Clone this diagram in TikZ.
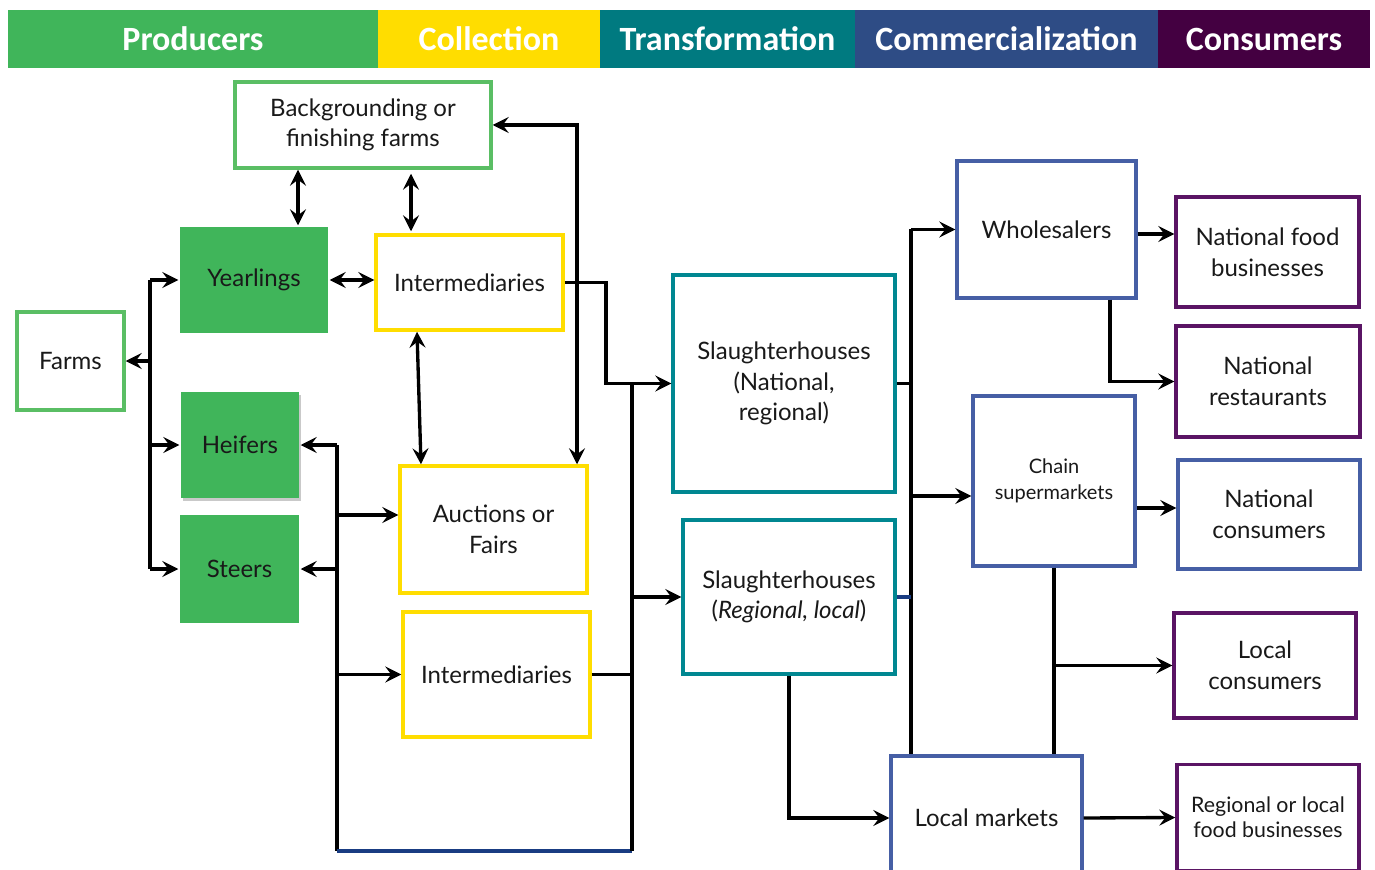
\documentclass[tikz,border=0pt]{standalone}
\usepackage{fontspec}
\setmainfont{Lato}
\newfontfamily\hdrfont{Carlito}
\usetikzlibrary{arrows.meta,shadows}
\definecolor{cgreen}{RGB}{64,181,90}
\definecolor{cgreenb}{RGB}{90,190,100}
\definecolor{cyellow}{RGB}{255,221,0}
\definecolor{cteal}{RGB}{0,122,128}
\definecolor{ctealb}{RGB}{0,135,145}
\definecolor{cblue}{RGB}{46,76,133}
\definecolor{cblueb}{RGB}{70,95,165}
\definecolor{cpurple}{RGB}{68,0,65}
\definecolor{cpurpleb}{RGB}{90,20,100}
\definecolor{cdark}{RGB}{25,60,130}
\begin{document}
\begin{tikzpicture}[x=0.75pt,y=-0.75pt,
  sz/.style 2 args={minimum width=#1*0.75pt, minimum height=#2*0.75pt},
  hdr/.style={inner sep=0pt, text=white, font=\hdrfont\bfseries\fontsize{25.5}{30}\selectfont},
  box/.style={draw, line width=2.6pt, align=center, inner sep=2pt, text=black!90,
    font=\fontsize{18}{23}\selectfont},
  gbox/.style={box, draw=cgreenb},
  fbox/.style={box, draw=none, fill=cgreen},
  ybox/.style={box, draw=cyellow},
  tbox/.style={box, draw=ctealb},
  bbox/.style={box, draw=cblueb},
  pbox/.style={box, draw=cpurpleb},
  ln/.style={line width=2.5pt},
  tip/.tip={Stealth[length=12pt,width=12pt,inset=4.5pt]},
  arr/.style={ln, -tip},
  darr/.style={ln, tip-tip}
]
\useasboundingbox (0,0) rectangle (1375,870);
\fill[white] (0,0) rectangle (1375,870);

% header
\node[hdr, fill=cgreen, sz={370}{58}] (hprod) at (193,39) {Producers};
\node[hdr, fill=cyellow, sz={222}{58}] (hcoll) at (489,39) {Collection};
\node[hdr, fill=cteal, sz={255}{58}] (htran) at (727.5,39) {Transformation};
\node[hdr, fill=cblue, sz={303}{58}] (hcomm) at (1006.5,39) {Commercialization};
\node[hdr, fill=cpurple, sz={212}{58}] (hcons) at (1264,39) {Consumers};

% nodes
\node[gbox, sz={256}{86}] (back) at (363,125) {Backgrounding or\\finishing farms};
\node[gbox, sz={107}{98}] (farms) at (70.5,361) {Farms};
\node[fbox, sz={148}{106}] (yearl) at (254,280) {Yearlings};
\node[fbox, sz={118}{106}, drop shadow={shadow xshift=1.5pt, shadow yshift=-2.5pt, opacity=0.35, fill=black!60}] (heif) at (240,445) {Heifers};
\node[fbox, sz={119}{108}] (steer) at (239.5,569) {Steers};
\node[ybox, sz={187}{95}] (int1) at (469.5,282.5) {Intermediaries};
\node[ybox, sz={187}{127}] (auct) at (493.5,529.5) {Auctions or\\Fairs};
\node[ybox, sz={187}{125}] (int2) at (496.5,674.5) {Intermediaries};
\node[tbox, sz={222}{217}] (sl1) at (784,383.5) {Slaughterhouses\\(National,\\regional)};
\node[tbox, sz={212}{154}] (sl2) at (789,597) {Slaughterhouses\\(\textit{Regional, local})};
\node[bbox, sz={179}{137}] (whol) at (1046.5,229.5) {Wholesalers};
\node[bbox, sz={162}{170}, font=\fontsize{15}{19}\selectfont] (chain) at (1054,481) {Chain\\supermarkets};
\node[bbox, sz={191}{124}] (lm) at (986.5,818) {Local markets};
\node[pbox, sz={183}{110}] (nfb) at (1267.5,252) {National food\\businesses};
\node[pbox, sz={184}{111}] (nr) at (1268,381.5) {National\\restaurants};
\node[bbox, sz={182}{109}] (nc) at (1269,514.5) {National\\consumers};
\node[pbox, sz={182}{105}] (lc) at (1265,665.5) {Local\\consumers};
\node[pbox, sz={182}{106}, font=\fontsize{16}{19}\selectfont] (reg) at (1268,817.5) {Regional or local\\food businesses};

% helper coordinates
\coordinate (fx) at (150,0);
\coordinate (lx) at (337,0);
\coordinate (rx) at (632,0);
\coordinate (jx) at (606,0);
\coordinate (bx) at (577,0);
\coordinate (cx) at (911,0);
\coordinate (wx) at (1110,0);
\coordinate (ax1) at (298,0);
\coordinate (ax2) at (411,0);
\coordinate (ax3) at (417,0);
\coordinate (ax4) at (421,0);
\coordinate (bot) at (0,851);

% farms trunk
\draw[ln] (yearl.west -| fx) -- (steer.west -| fx);
\draw[arr] (farms.east -| fx) -- (farms.east);
\draw[arr] (yearl.west -| fx) -- (yearl.west);
\draw[arr] (heif.west -| fx) -- (heif.west);
\draw[arr] (steer.west -| fx) -- (steer.west);

% backgrounding links
\draw[darr] (back.south -| ax1) -- (yearl.north -| ax1);
\draw[darr, shorten <=3pt, shorten >=1.5pt] (back.south -| ax2) -- (int1.north -| ax2);
\draw[darr] (yearl.east) -- (yearl.east -| int1.west);
\draw[darr] (int1.south -| ax3) -- (auct.north -| ax4);
\draw[darr] (back.east) -| (bx |- auct.north);

% intermediaries to slaughterhouse
\draw[arr] (int1.east) -| (jx |- sl1.west) -- (sl1.west);

% loop
\draw[ln] (heif.east -| lx) -- (lx |- bot);
\draw[ln, cdark] (lx |- bot) -- (rx |- bot);
\draw[ln] (rx |- bot) -- (rx |- sl1.west);
\draw[arr] (heif.east -| lx) -- (heif.east);
\draw[arr] (steer.east -| lx) -- (steer.east);
\draw[arr] (lx |- 0,515) -- (auct.west |- 0,515);
\draw[arr] (int2.west -| lx) -- (int2.west);
\draw[ln] (int2.east) -- (int2.east -| rx);
\draw[arr] (rx |- sl2.west) -- (sl2.west);

% commercial trunk
\draw[ln] (cx |- whol.west) -- (cx |- lm.north);
\draw[ln] (sl1.east) -- (sl1.east -| cx);
\draw[ln, cdark] (sl2.east) -- (sl2.east -| cx);
\draw[arr] (cx |- whol.west) -- (whol.west);
\draw[arr] (cx |- 0,496) -- (chain.west |- 0,496);

% right side
\draw[arr] (whol.east |- 0,234) -- (nfb.west |- 0,234);
\draw[arr] (wx |- whol.south) |- (nr.west);
\draw[arr] (chain.east |- 0,508) -- (nc.west |- 0,508);
\draw[ln] (chain.south) -- (chain.south |- lm.north);
\draw[arr] (chain.south |- lc.west) -- (lc.west);
\draw[arr] (sl2.south) |- (lm.west);
\draw[arr] (lm.east) -- (reg.west);
\end{tikzpicture}
\end{document}
